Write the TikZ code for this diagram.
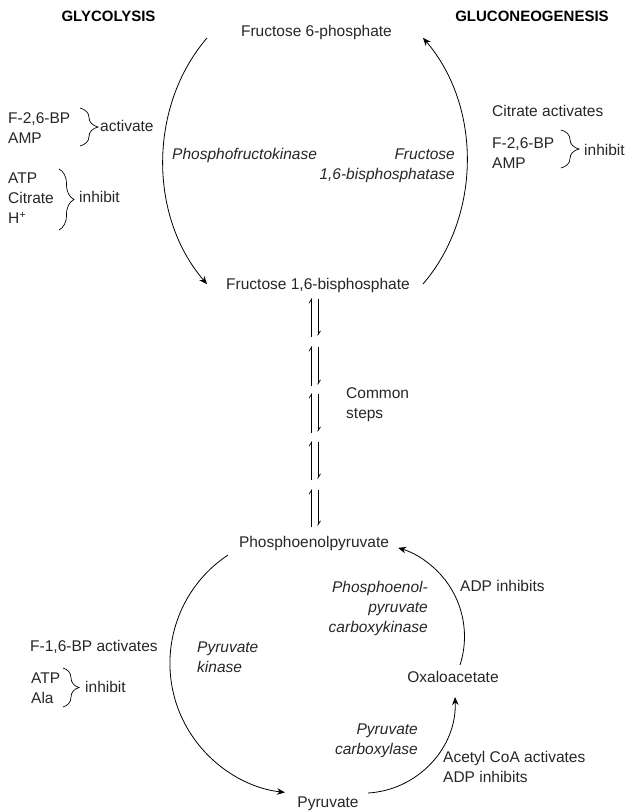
\documentclass[tikz,border=0pt]{standalone}
\usepackage{fontspec}
\setmainfont{Liberation Sans}
\usetikzlibrary{arrows.meta,decorations.pathreplacing}
\begin{document}
\begin{tikzpicture}[x=1pt,y=-1pt,
  every node/.style={inner sep=0pt, text=black!85, font=\fontsize{15.5}{20}\selectfont},
  lbl/.style={text height=11pt, text depth=3.5pt},
  enz/.style={font=\fontsize{15.5}{20}\selectfont\itshape},
  hdr/.style={font=\fontsize{15}{18}\selectfont\bfseries, text=black},
  conn/.style={line width=0.8pt, -{Stealth[length=8pt,width=6.5pt]}},
  hrp/.style={line width=0.7pt, -{Straight Barb[harpoon,length=4pt,width=5pt]}},
  brc/.style={line width=0.7pt, decorate, decoration={brace, amplitude=#1}},
]
\useasboundingbox (0,0) rectangle (626,811);

% headers
\node[hdr,lbl] (glyc) at (108.5,18) {GLYCOLYSIS};
\node[hdr,lbl] (gluc) at (532,18) {GLUCONEOGENESIS};

% metabolites
\node[lbl] (f6p) at (316.5,33) {Fructose 6-phosphate};
\node[lbl] (fbp) at (318,286) {Fructose 1,6-bisphosphate};
\node[lbl] (pep) at (314,544) {Phosphoenolpyruvate};
\node[lbl] (oaa) at (453,679) {Oxaloacetate};
\node[lbl] (pyr) at (328,804) {Pyruvate};

% enzymes
\node[enz,lbl,anchor=west] (pfk) at (172,156) {Phosphofructokinase};
\node[enz,align=right,anchor=east] (fbpase) at (455,166) {Fructose\\1,6-bisphosphatase};
\node[enz,align=left,anchor=west] (pk) at (197,657) {Pyruvate\\kinase};
\node[enz,align=right,anchor=east] (pepck) at (428,608) {Phosphoenol-\\pyruvate\\carboxykinase};
\node[enz,align=right,anchor=east] (pc) at (418,741) {Pyruvate\\carboxylase};

% regulators, top left
\node[align=left,anchor=west] (act1) at (8,128) {F-2,6-BP\\AMP};
\node[lbl,anchor=west] (act1t) at (100,128) {activate};
\node[align=left,anchor=west] (inh1) at (8,198) {ATP\\Citrate\\H\textsuperscript{+}};
\node[lbl,anchor=west] (inh1t) at (79,199) {inhibit};
% top right
\node[lbl,anchor=west] (citact) at (492,113) {Citrate activates};
\node[align=left,anchor=west] (inh2) at (492,153) {F-2,6-BP\\AMP};
\node[lbl,anchor=west] (inh2t) at (584,152) {inhibit};
% middle
\node[align=left,anchor=west] (common) at (346,405) {Common\\steps};
% bottom left
\node[lbl,anchor=west] (fbpact) at (30,648) {F-1,6-BP activates};
\node[align=left,anchor=west] (inh3) at (31,688) {ATP\\Ala};
\node[lbl,anchor=west] (inh3t) at (85,689) {inhibit};
% bottom right
\node[lbl,anchor=west] (adpinh) at (460,588) {ADP inhibits};
\node[align=left,anchor=west] (acoa) at (443,767) {Acetyl CoA activates\\ADP inhibits};

% braces
\coordinate (b1a) at (80,108); \coordinate (b1b) at (80,146);
\draw[brc=18] (b1a) -- (b1b);
\coordinate (b2a) at (59,169); \coordinate (b2b) at (59,230);
\draw[brc=15] (b2a) -- (b2b);
\coordinate (b3a) at (561,130); \coordinate (b3b) at (561,168);
\draw[brc=18] (b3a) -- (b3b);
\coordinate (b4a) at (63,668); \coordinate (b4b) at (63,707);
\draw[brc=16] (b4a) -- (b4b);

% top cycle
\coordinate (tl) at (207,38);
\coordinate (tr) at (423,284);
\draw[conn] (tl) arc[start angle=224.7, end angle=135.3, x radius=152, y radius=175];
\draw[conn] (tr) arc[start angle=44.7, end angle=-44.7, x radius=152, y radius=175];

% common steps
\foreach \a/\b [count=\i] in {298/337,346/386,393/433,441/480,489/527}{
  \coordinate (u\i) at (311.5,\b); \coordinate (v\i) at (311.5,\a);
  \coordinate (w\i) at (318,\a+1); \coordinate (z\i) at (318,\b-1);
  \draw[hrp] (u\i) -- (v\i);
  \draw[hrp] (w\i) -- (z\i);
}

% bottom cycle
\coordinate (bl) at (228,555);
\draw[conn] (bl) arc[start angle=236.4, end angle=96.6, radius=130];
\coordinate (br1) at (460,665);
\draw[conn] (br1) arc[start angle=17.9, end angle=-73.6, radius=92.5];
\coordinate (br2) at (368,793);
\draw[conn] (br2) arc[start angle=86.6, end angle=-2.2, radius=92.6];
\end{tikzpicture}
\end{document}
